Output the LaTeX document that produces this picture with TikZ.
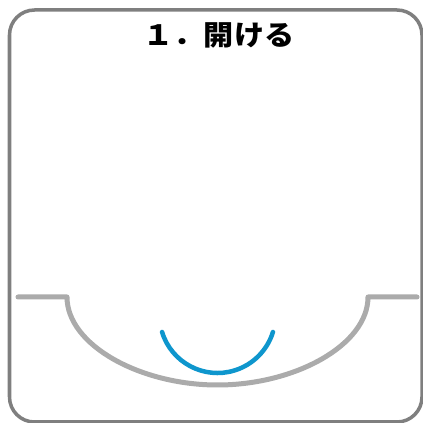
\documentclass[tikz,border=0pt]{standalone}
\usepackage{fontspec}
\newfontfamily\jpfont{Noto Sans CJK JP}
\usepackage{tikz}

\begin{document}
\begin{tikzpicture}[x=1bp, y=1bp, line cap=round, line join=round,
                    frame line/.style={draw={rgb,255:red,127;green,127;blue,127}, line width=3.5bp, rounded corners=25bp},
                    tray line/.style={draw={rgb,255:red,171;green,171;blue,171}, line width=5bp},
                    smile line/.style={draw={rgb,255:red,14;green,150;blue,205}, line width=4.5bp},
                    title node/.style={font=\jpfont\bfseries\fontsize{28}{32}\selectfont, xscale=1.08}]
  \useasboundingbox (0,0) rectangle (423,423);

  \draw[frame line] (9.5,1) rectangle (422,413);

  \node[title node] (title) at (219,388) {１．開ける};

  \coordinate (tl) at (18,126);
  \coordinate (tr) at (417,126);
  \draw[tray line] (tl) -- (67,126)
    .. controls (67,78) and (140,38) .. (217.5,38)
    .. controls (295,38) and (368,78) .. (368,126) -- (tr);

  \draw[smile line] (217.5,108) ++(197:58) arc[start angle=197, end angle=343, radius=58];
\end{tikzpicture}
\end{document}
